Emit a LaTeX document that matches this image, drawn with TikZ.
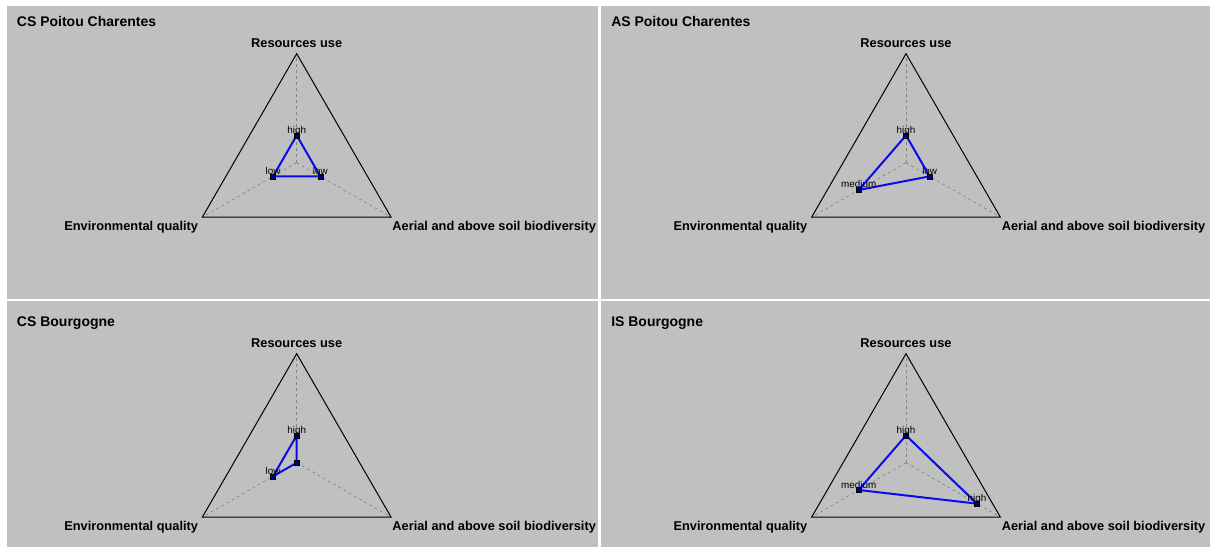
\documentclass[tikz,border=0pt]{standalone}
\usepackage{fontspec}
\setmainfont{Liberation Sans}
\usepackage{xcolor}
\usepackage{tikz}
\usetikzlibrary{positioning, calc}

\definecolor{panelgray}{RGB}{192,192,192}
\definecolor{axisgray}{RGB}{130,130,130}
\definecolor{markernavy}{RGB}{0,0,130}
\definecolor{valueblue}{RGB}{10,10,235}

\begin{document}
\begin{tikzpicture}[x=0.75pt, y=0.75pt,
        panelbox/.style={fill=panelgray, draw=none},
        paneltitle/.style={anchor=base west, inner sep=0pt, font=\fontsize{10.5}{12}\selectfont\bfseries},
        axislabel/.style={inner sep=0pt, font=\fontsize{9.6}{11}\selectfont\bfseries},
        valuelabel/.style={anchor=base, inner sep=0pt, font=\fontsize{7.4}{9}\selectfont},
        axisline/.style={draw=axisgray, line width=0.5pt, dash pattern=on 2.25pt off 2.25pt},
        frameline/.style={draw=black, line width=0.75pt},
        valueline/.style={draw=valueblue, line width=1.5pt, line join=round},
        pointmark/.style={rectangle, fill=markernavy, draw=black, line width=0.3pt, minimum size=3.6pt, inner sep=0pt}
    ]

    % ============ PANELS ============
    \fill[white] (0,0) rectangle (1212,547);
    \useasboundingbox (0,0) rectangle (1212,547);
    \fill[panelbox] (7,248) rectangle (598,541);
    \fill[panelbox] (601,248) rectangle (1210,541);
    \fill[panelbox] (7,0) rectangle (598,246);
    \fill[panelbox] (601,0) rectangle (1210,246);

    \node[paneltitle] (cspctitle) at (16.7,520.3) {CS Poitou Charentes};
    \node[paneltitle] (aspctitle) at (611,520.3) {AS Poitou Charentes};
    \node[paneltitle] (csbgtitle) at (16.7,220.3) {CS Bourgogne};
    \node[paneltitle] (isbgtitle) at (611,220.3) {IS Bourgogne};

    % ============ CS POITOU CHARENTES ============
    \begin{scope}[shift={(296.7,384.3)}]
        \coordinate (cspcctr) at (0,0);
        \coordinate (cspctop) at (90:109);
        \coordinate (cspcleft) at (210:109);
        \coordinate (cspcright) at (330:109);
        \draw[axisline] (cspcctr) -- (cspctop);
        \draw[axisline] (cspcctr) -- (cspcleft);
        \draw[axisline] (cspcctr) -- (cspcright);
        \draw[frameline] (cspctop) -- (cspcleft) -- (cspcright) -- cycle;
        \node[axislabel, anchor=base] (cspcreslbl) at (0,115.4) {Resources use};
        \node[axislabel, anchor=base east] (cspcenvlbl) at (-98.4,-67.3) {Environmental quality};
        \node[axislabel, anchor=base west] (cspcaerlbl) at (95.5,-67.3) {Aerial and above soil biodiversity};

        \coordinate (cspcres) at (90:27.3);
        \coordinate (cspcenv) at (210:27.3);
        \coordinate (cspcaer) at (330:27.3);
        \draw[valueline] (cspcres) -- (cspcenv) -- (cspcaer) -- cycle;
        \node[pointmark] (cspcresmk) at (cspcres) {};
        \node[pointmark] (cspcenvmk) at (cspcenv) {};
        \node[pointmark] (cspcaermk) at (cspcaer) {};
        \node[valuelabel] (cspcresval) at ([yshift=1.5pt]cspcres) {high};
        \node[valuelabel] (cspcenvval) at ([yshift=1.5pt]cspcenv) {low};
        \node[valuelabel] (cspcaerval) at ([yshift=1.5pt]cspcaer) {low};
    \end{scope}

    % ============ AS POITOU CHARENTES ============
    \begin{scope}[shift={(906,384.3)}]
        \coordinate (aspcctr) at (0,0);
        \coordinate (aspctop) at (90:109);
        \coordinate (aspcleft) at (210:109);
        \coordinate (aspcright) at (330:109);
        \draw[axisline] (aspcctr) -- (aspctop);
        \draw[axisline] (aspcctr) -- (aspcleft);
        \draw[axisline] (aspcctr) -- (aspcright);
        \draw[frameline] (aspctop) -- (aspcleft) -- (aspcright) -- cycle;
        \node[axislabel, anchor=base] (aspcreslbl) at (0,115.4) {Resources use};
        \node[axislabel, anchor=base east] (aspcenvlbl) at (-98.4,-67.3) {Environmental quality};
        \node[axislabel, anchor=base west] (aspcaerlbl) at (95.5,-67.3) {Aerial and above soil biodiversity};

        \coordinate (aspcres) at (90:27.3);
        \coordinate (aspcenv) at (210:54.6);
        \coordinate (aspcaer) at (330:27.3);
        \draw[valueline] (aspcres) -- (aspcenv) -- (aspcaer) -- cycle;
        \node[pointmark] (aspcresmk) at (aspcres) {};
        \node[pointmark] (aspcenvmk) at (aspcenv) {};
        \node[pointmark] (aspcaermk) at (aspcaer) {};
        \node[valuelabel] (aspcresval) at ([yshift=1.5pt]aspcres) {high};
        \node[valuelabel] (aspcenvval) at ([yshift=1.5pt]aspcenv) {medium};
        \node[valuelabel] (aspcaerval) at ([yshift=1.5pt]aspcaer) {low};
    \end{scope}

    % ============ CS BOURGOGNE ============
    \begin{scope}[shift={(296.7,84.3)}]
        \coordinate (csbgctr) at (0,0);
        \coordinate (csbgtop) at (90:109);
        \coordinate (csbgleft) at (210:109);
        \coordinate (csbgright) at (330:109);
        \draw[axisline] (csbgctr) -- (csbgtop);
        \draw[axisline] (csbgctr) -- (csbgleft);
        \draw[axisline] (csbgctr) -- (csbgright);
        \draw[frameline] (csbgtop) -- (csbgleft) -- (csbgright) -- cycle;
        \node[axislabel, anchor=base] (csbgreslbl) at (0,115.4) {Resources use};
        \node[axislabel, anchor=base east] (csbgenvlbl) at (-98.4,-67.3) {Environmental quality};
        \node[axislabel, anchor=base west] (csbgaerlbl) at (95.5,-67.3) {Aerial and above soil biodiversity};

        \coordinate (csbgres) at (90:27.3);
        \coordinate (csbgenv) at (210:27.3);
        \coordinate (csbgaer) at (0,0);
        \draw[valueline] (csbgres) -- (csbgenv) -- (csbgaer) -- cycle;
        \node[pointmark] (csbgresmk) at (csbgres) {};
        \node[pointmark] (csbgenvmk) at (csbgenv) {};
        \node[pointmark] (csbgaermk) at (csbgaer) {};
        \node[valuelabel] (csbgresval) at ([yshift=1.5pt]csbgres) {high};
        \node[valuelabel] (csbgenvval) at ([yshift=1.5pt]csbgenv) {low};
    \end{scope}

    % ============ IS BOURGOGNE ============
    \begin{scope}[shift={(906,84.3)}]
        \coordinate (isbgctr) at (0,0);
        \coordinate (isbgtop) at (90:109);
        \coordinate (isbgleft) at (210:109);
        \coordinate (isbgright) at (330:109);
        \draw[axisline] (isbgctr) -- (isbgtop);
        \draw[axisline] (isbgctr) -- (isbgleft);
        \draw[axisline] (isbgctr) -- (isbgright);
        \draw[frameline] (isbgtop) -- (isbgleft) -- (isbgright) -- cycle;
        \node[axislabel, anchor=base] (isbgreslbl) at (0,115.4) {Resources use};
        \node[axislabel, anchor=base east] (isbgenvlbl) at (-98.4,-67.3) {Environmental quality};
        \node[axislabel, anchor=base west] (isbgaerlbl) at (95.5,-67.3) {Aerial and above soil biodiversity};

        \coordinate (isbgres) at (90:27.3);
        \coordinate (isbgenv) at (210:54.6);
        \coordinate (isbgaer) at (330:81.9);
        \draw[valueline] (isbgres) -- (isbgenv) -- (isbgaer) -- cycle;
        \node[pointmark] (isbgresmk) at (isbgres) {};
        \node[pointmark] (isbgenvmk) at (isbgenv) {};
        \node[pointmark] (isbgaermk) at (isbgaer) {};
        \node[valuelabel] (isbgresval) at ([yshift=1.5pt]isbgres) {high};
        \node[valuelabel] (isbgenvval) at ([yshift=1.5pt]isbgenv) {medium};
        \node[valuelabel] (isbgaerval) at ([yshift=1.5pt]isbgaer) {high};
    \end{scope}

\end{tikzpicture}
\end{document}
